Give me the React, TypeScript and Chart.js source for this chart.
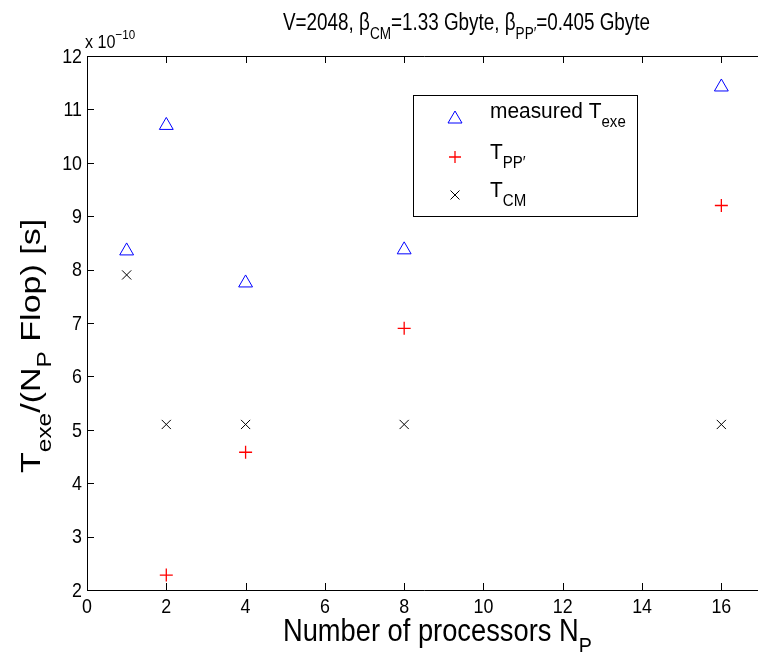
import React, { useEffect, useRef } from "react";
import { Chart, registerables } from "chart.js";

Chart.register(...registerables);

const processors = [1, 2, 4, 8, 16];
const measuredTexe = [8.35, 10.7, 7.75, 8.37, 11.42];
const ppProcessors = [2, 4, 8, 16];
const tPP = [2.28, 4.58, 6.9, 9.2];
const tCM = [7.9, 5.1, 5.1, 5.1, 5.1];
const xTicks = [0, 2, 4, 6, 8, 10, 12, 14, 16];
const yTicks = [2, 3, 4, 5, 6, 7, 8, 9, 10, 11, 12];

const FONT = '"Liberation Sans", Arial, Helvetica, sans-serif';

type Seg = { t: string; sub?: boolean; sup?: boolean };

// draws text with a horizontal condensation factor (sx)
function drawRich(
  ctx: CanvasRenderingContext2D,
  segs: Seg[],
  x: number,
  y: number,
  size: number,
  sx = 1,
  sy = 1
) {
  ctx.save();
  ctx.translate(x, y);
  ctx.scale(sx, sy);
  let cx = 0;
  for (const s of segs) {
    const sz = s.sub || s.sup ? size * 0.72 : size;
    ctx.font = `${sz}px ${FONT}`;
    const dy = s.sub ? size * 0.4 : s.sup ? -size * 0.45 : 0;
    ctx.fillText(s.t, cx, dy);
    cx += ctx.measureText(s.t).width;
  }
  ctx.restore();
  return cx * sx;
}

function drawCondensed(
  ctx: CanvasRenderingContext2D,
  t: string,
  x: number,
  y: number,
  size: number,
  sx: number,
  align: "left" | "right" | "center"
) {
  ctx.save();
  ctx.translate(x, y);
  ctx.scale(sx, 1);
  ctx.font = `${size}px ${FONT}`;
  ctx.textAlign = align;
  ctx.fillText(t, 0, 0);
  ctx.restore();
}

const framePlugin = {
  id: "matlabFrame",
  afterDraw(chart: any) {
    const ctx: CanvasRenderingContext2D = chart.ctx;
    const { left, right, top, bottom } = chart.chartArea;
    const xs = chart.scales.x;
    const ys = chart.scales.y;
    ctx.save();
    ctx.strokeStyle = "#000";
    ctx.lineWidth = 1;
    ctx.beginPath();
    ctx.moveTo(left + 0.5, top + 0.5);
    ctx.lineTo(right, top + 0.5);
    ctx.moveTo(left + 0.5, top);
    ctx.lineTo(left + 0.5, bottom + 0.5);
    ctx.lineTo(right, bottom + 0.5);
    const tl = 7;
    for (const v of xTicks) {
      const px = Math.round(xs.getPixelForValue(v)) + 0.5;
      ctx.moveTo(px, bottom);
      ctx.lineTo(px, bottom - tl);
      ctx.moveTo(px, top);
      ctx.lineTo(px, top + tl);
    }
    for (const v of yTicks) {
      const py = Math.round(ys.getPixelForValue(v)) + 0.5;
      ctx.moveTo(left, py);
      ctx.lineTo(left + tl, py);
    }
    ctx.stroke();

    ctx.fillStyle = "#000";
    // tick labels
    ctx.textBaseline = "top";
    for (const v of xTicks) {
      drawCondensed(ctx, String(v), xs.getPixelForValue(v), bottom + 7, 21, 0.85, "center");
    }
    ctx.textBaseline = "middle";
    for (const v of yTicks) {
      drawCondensed(ctx, String(v), left - 5, ys.getPixelForValue(v) + 1, 21, 0.85, "right");
    }

    ctx.textBaseline = "alphabetic";
    ctx.textAlign = "left";
    // title
    drawRich(
      ctx,
      [
        { t: "V=2048, β" },
        { t: "CM", sub: true },
        { t: "=1.33 Gbyte, β" },
        { t: "PP′", sub: true },
        { t: "=0.405 Gbyte" },
      ],
      283,
      30,
      23,
      0.82
    );
    // exponent
    drawRich(ctx, [{ t: "x 10" }, { t: "−10", sup: true }], 85, 48, 19, 0.85);
    // x label
    drawRich(ctx, [{ t: "Number of processors N" }, { t: "P", sub: true }], 283, 641, 31, 0.88);
    // y label
    ctx.save();
    ctx.translate(40, 473);
    ctx.rotate(-Math.PI / 2);
    drawRich(
      ctx,
      [{ t: "T" }, { t: "exe", sub: true }, { t: "/(N" }, { t: "P", sub: true }, { t: " Flop) [s]" }],
      0,
      0,
      34,
      1,
      0.82
    );
    ctx.restore();

    // legend
    const lx = 413.5, ly = 95.5, lw = 224, lh = 121;
    ctx.fillStyle = "#fff";
    ctx.fillRect(lx, ly, lw, lh);
    ctx.lineWidth = 1;
    ctx.strokeStyle = "#000000";
    ctx.strokeRect(lx, ly, lw, lh);
    const mx = 455;
    // triangle
    ctx.strokeStyle = "#0000ff";
    ctx.beginPath();
    ctx.moveTo(mx, 111);
    ctx.lineTo(mx + 7, 123);
    ctx.lineTo(mx - 7, 123);
    ctx.closePath();
    ctx.stroke();
    // plus
    ctx.strokeStyle = "#ff0000";
    ctx.lineWidth = 1.3;
    ctx.beginPath();
    ctx.moveTo(mx - 6, 157);
    ctx.lineTo(mx + 6, 157);
    ctx.moveTo(mx, 151);
    ctx.lineTo(mx, 163);
    ctx.stroke();
    ctx.lineWidth = 1;
    // x
    ctx.strokeStyle = "#000000";
    ctx.beginPath();
    ctx.moveTo(mx - 4.5, 190.5);
    ctx.lineTo(mx + 4.5, 199.5);
    ctx.moveTo(mx + 4.5, 190.5);
    ctx.lineTo(mx - 4.5, 199.5);
    ctx.stroke();
    ctx.fillStyle = "#000";
    drawRich(ctx, [{ t: "measured T" }, { t: "exe", sub: true }], 490, 118, 22, 0.95);
    drawRich(ctx, [{ t: "T" }, { t: "PP′", sub: true }], 490, 159, 22, 0.95);
    drawRich(ctx, [{ t: "T" }, { t: "CM", sub: true }], 490, 197, 22, 0.95);
    ctx.restore();
  },
};

export default function App() {
  const ref = useRef<HTMLCanvasElement>(null);
  useEffect(() => {
    if (!ref.current) return;
    const chart = new Chart(ref.current, {
      type: "scatter",
      data: {
        datasets: [
          {
            label: "measured T_exe",
            data: processors.map((x, i) => ({ x, y: measuredTexe[i] })),
            pointStyle: "triangle",
            radius: 8,
            borderColor: "#0000ff",
            backgroundColor: "rgba(0,0,0,0)",
            borderWidth: 1,
          },
          {
            label: "T_PP'",
            data: ppProcessors.map((x, i) => ({ x, y: tPP[i] })),
            pointStyle: "cross",
            radius: 6.5,
            borderColor: "#ff0000",
            backgroundColor: "rgba(0,0,0,0)",
            borderWidth: 1.3,
          },
          {
            label: "T_CM",
            data: processors.map((x, i) => ({ x, y: tCM[i] })),
            pointStyle: "crossRot",
            radius: 6.5,
            borderColor: "#000000",
            backgroundColor: "rgba(0,0,0,0)",
            borderWidth: 1,
          },
        ],
      },
      options: {
        animation: false,
        responsive: false,
        devicePixelRatio: 1,
        layout: { padding: { left: 0, top: 56, right: 2, bottom: 0 } },
        plugins: { legend: { display: false }, tooltip: { enabled: false }, title: { display: false } },
        scales: {
          x: {
            type: "linear",
            min: 0,
            max: 17,
            grid: { display: false },
            border: { display: false },
            ticks: { display: false },
            afterFit: (s: any) => {
              s.height = 62;
              s.paddingLeft = 0;
              s.paddingRight = 0;
            },
          },
          y: {
            type: "linear",
            min: 2,
            max: 12,
            grid: { display: false },
            border: { display: false },
            ticks: { display: false },
            afterFit: (s: any) => {
              s.width = 87;
              s.paddingTop = 0;
              s.paddingBottom = 0;
            },
          },
        },
      },
      plugins: [framePlugin],
    });
    return () => chart.destroy();
  }, []);
  return (
    <div
      style={{
        position: "fixed",
        left: 0,
        top: 0,
        width: 758,
        height: 652,
        overflow: "hidden",
        background: "#fff",
      }}
    >
      <canvas ref={ref} width={770} height={652} style={{ display: "block", width: 770, height: 652 }} />
    </div>
  );
}
